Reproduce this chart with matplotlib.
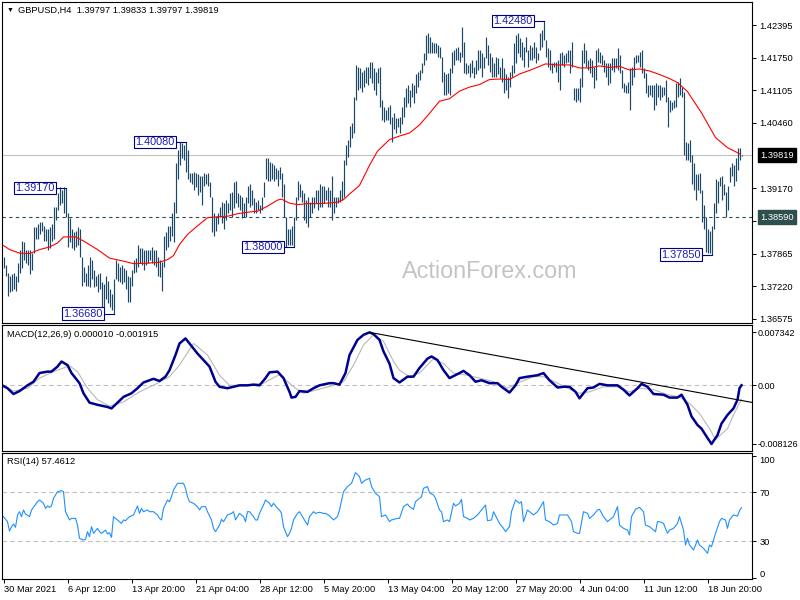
import numpy as np
import matplotlib
matplotlib.use('Agg')
import matplotlib.pyplot as plt
import matplotlib.transforms as mtransforms

plt.rcParams['font.family'] = ['Liberation Sans', 'DejaVu Sans']

# GBPUSD H4 bars (high / low), one per 4h bar from 30 Mar 2021
HIGH = [
    1.3781, 1.3765, 1.3749, 1.3742, 1.3746, 1.3749, 1.3742, 1.3769, 1.3795, 1.3811,
    1.3809, 1.3795, 1.3795, 1.3795, 1.3789, 1.3839, 1.3839, 1.3845, 1.3850, 1.3850,
    1.3841, 1.3835, 1.3835, 1.3839, 1.3845, 1.3880, 1.3880, 1.3908, 1.3918, 1.3914,
    1.3918, 1.3917, 1.3868, 1.3858, 1.3835, 1.3829, 1.3831, 1.3839, 1.3835, 1.3781,
    1.3761, 1.3749, 1.3765, 1.3781, 1.3775, 1.3755, 1.3742, 1.3746, 1.3749, 1.3730,
    1.3726, 1.3742, 1.3732, 1.3716, 1.3706, 1.3736, 1.3775, 1.3769, 1.3761, 1.3765,
    1.3759, 1.3755, 1.3742, 1.3740, 1.3755, 1.3775, 1.3779, 1.3805, 1.3799, 1.3799,
    1.3795, 1.3795, 1.3795, 1.3795, 1.3801, 1.3795, 1.3795, 1.3781, 1.3775, 1.3771,
    1.3821, 1.3829, 1.3841, 1.3841, 1.3868, 1.3890, 1.3967, 1.3993, 1.4009, 1.4007,
    1.4003, 1.4008, 1.3993, 1.3947, 1.3947, 1.3949, 1.3947, 1.3944, 1.3940, 1.3940,
    1.3947, 1.3944, 1.3947, 1.3928, 1.3900, 1.3868, 1.3860, 1.3868, 1.3880, 1.3890,
    1.3888, 1.3894, 1.3888, 1.3908, 1.3910, 1.3928, 1.3930, 1.3908, 1.3904, 1.3900,
    1.3888, 1.3900, 1.3920, 1.3924, 1.3914, 1.3898, 1.3890, 1.3894, 1.3884, 1.3900,
    1.3928, 1.3977, 1.3977, 1.3969, 1.3967, 1.3963, 1.3957, 1.3953, 1.3959, 1.3947,
    1.3924, 1.3860, 1.3835, 1.3835, 1.3841, 1.3860, 1.3900, 1.3930, 1.3924, 1.3914,
    1.3908, 1.3894, 1.3900, 1.3890, 1.3900, 1.3900, 1.3914, 1.3914, 1.3924, 1.3920,
    1.3920, 1.3914, 1.3918, 1.3914, 1.3940, 1.3900, 1.3900, 1.3900, 1.3914, 1.3930,
    1.3973, 1.4003, 1.4013, 1.4039, 1.4046, 1.4098, 1.4161, 1.4157, 1.4155, 1.4147,
    1.4151, 1.4157, 1.4157, 1.4167, 1.4167, 1.4155, 1.4147, 1.4155, 1.4157, 1.4092,
    1.4078, 1.4072, 1.4078, 1.4082, 1.4058, 1.4066, 1.4056, 1.4056, 1.4058, 1.4078,
    1.4098, 1.4116, 1.4122, 1.4112, 1.4126, 1.4122, 1.4142, 1.4147, 1.4151, 1.4165,
    1.4185, 1.4221, 1.4225, 1.4217, 1.4207, 1.4205, 1.4205, 1.4201, 1.4197, 1.4177,
    1.4147, 1.4142, 1.4145, 1.4155, 1.4187, 1.4191, 1.4195, 1.4197, 1.4187, 1.4237,
    1.4207, 1.4165, 1.4161, 1.4165, 1.4171, 1.4157, 1.4171, 1.4191, 1.4191, 1.4185,
    1.4177, 1.4217, 1.4201, 1.4185, 1.4177, 1.4165, 1.4177, 1.4175, 1.4157, 1.4175,
    1.4155, 1.4142, 1.4138, 1.4147, 1.4161, 1.4205, 1.4221, 1.4225, 1.4215, 1.4207,
    1.4197, 1.4217, 1.4191, 1.4201, 1.4197, 1.4207, 1.4197, 1.4185, 1.4225, 1.4231,
    1.4248, 1.4211, 1.4195, 1.4191, 1.4165, 1.4167, 1.4167, 1.4171, 1.4185, 1.4187,
    1.4181, 1.4185, 1.4191, 1.4191, 1.4207, 1.4116, 1.4116, 1.4116, 1.4136, 1.4191,
    1.4205, 1.4191, 1.4171, 1.4175, 1.4171, 1.4157, 1.4191, 1.4195, 1.4187, 1.4181,
    1.4171, 1.4165, 1.4165, 1.4165, 1.4175, 1.4175, 1.4175, 1.4195, 1.4181, 1.4151,
    1.4126, 1.4122, 1.4128, 1.4155, 1.4157, 1.4177, 1.4181, 1.4181, 1.4187, 1.4191,
    1.4155, 1.4145, 1.4122, 1.4122, 1.4122, 1.4122, 1.4126, 1.4122, 1.4122, 1.4118,
    1.4118, 1.4132, 1.4098, 1.4092, 1.4088, 1.4092, 1.4126, 1.4128, 1.4136, 1.4118,
    1.4108, 1.4009, 1.4007, 1.4013, 1.3983, 1.3967, 1.3944, 1.3944, 1.3947, 1.3914,
    1.3884, 1.3860, 1.3835, 1.3831, 1.3841, 1.3888, 1.3934, 1.3930, 1.3938, 1.3940,
    1.3924, 1.3910, 1.3920, 1.3959, 1.3967, 1.3963, 1.3977, 1.3997, 1.3997, 1.39833,
]
LOW = [
    1.3759, 1.3742, 1.3702, 1.3710, 1.3712, 1.3716, 1.3712, 1.3730, 1.3749, 1.3759,
    1.3775, 1.3769, 1.3765, 1.3746, 1.3755, 1.3789, 1.3815, 1.3815, 1.3825, 1.3831,
    1.3811, 1.3811, 1.3795, 1.3799, 1.3811, 1.3815, 1.3854, 1.3874, 1.3884, 1.3888,
    1.3868, 1.3860, 1.3801, 1.3809, 1.3799, 1.3795, 1.3801, 1.3805, 1.3781, 1.3722,
    1.3730, 1.3722, 1.3722, 1.3720, 1.3736, 1.3720, 1.3722, 1.3710, 1.3716, 1.3675,
    1.3682, 1.3696, 1.3690, 1.3682, 1.3676, 1.3668, 1.3736, 1.3732, 1.3730, 1.3726,
    1.3730, 1.3716, 1.3692, 1.3692, 1.3722, 1.3749, 1.3751, 1.3761, 1.3769, 1.3765,
    1.3755, 1.3765, 1.3769, 1.3775, 1.3769, 1.3765, 1.3761, 1.3742, 1.3740, 1.3712,
    1.3761, 1.3795, 1.3801, 1.3811, 1.3821, 1.3809, 1.3868, 1.3934, 1.3963, 1.3977,
    1.3973, 1.3949, 1.3934, 1.3928, 1.3924, 1.3914, 1.3918, 1.3904, 1.3910, 1.3884,
    1.3920, 1.3924, 1.3920, 1.3900, 1.3829, 1.3821, 1.3831, 1.3845, 1.3860, 1.3848,
    1.3835, 1.3854, 1.3868, 1.3874, 1.3860, 1.3878, 1.3888, 1.3880, 1.3874, 1.3858,
    1.3860, 1.3860, 1.3888, 1.3880, 1.3884, 1.3868, 1.3868, 1.3874, 1.3868, 1.3874,
    1.3900, 1.3934, 1.3930, 1.3930, 1.3934, 1.3930, 1.3934, 1.3920, 1.3934, 1.3900,
    1.3860, 1.3801, 1.3805, 1.3805, 1.3805, 1.3800, 1.3854, 1.3894, 1.3900, 1.3890,
    1.3854, 1.3848, 1.3839, 1.3860, 1.3868, 1.3878, 1.3888, 1.3874, 1.3880, 1.3880,
    1.3888, 1.3894, 1.3880, 1.3880, 1.3854, 1.3868, 1.3880, 1.3888, 1.3890, 1.3894,
    1.3900, 1.3963, 1.3979, 1.3999, 1.4017, 1.4027, 1.4092, 1.4112, 1.4116, 1.4108,
    1.4118, 1.4126, 1.4122, 1.4136, 1.4126, 1.4112, 1.4102, 1.4126, 1.4078, 1.4052,
    1.4048, 1.4052, 1.4052, 1.4043, 1.4009, 1.4033, 1.4027, 1.4037, 1.4027, 1.4043,
    1.4058, 1.4078, 1.4086, 1.4078, 1.4098, 1.4086, 1.4106, 1.4118, 1.4132, 1.4145,
    1.4161, 1.4171, 1.4185, 1.4185, 1.4185, 1.4185, 1.4185, 1.4177, 1.4175, 1.4128,
    1.4102, 1.4102, 1.4106, 1.4102, 1.4145, 1.4161, 1.4171, 1.4171, 1.4167, 1.4177,
    1.4145, 1.4142, 1.4145, 1.4138, 1.4145, 1.4136, 1.4142, 1.4151, 1.4155, 1.4138,
    1.4155, 1.4175, 1.4161, 1.4147, 1.4138, 1.4138, 1.4138, 1.4142, 1.4136, 1.4128,
    1.4106, 1.4112, 1.4096, 1.4118, 1.4138, 1.4145, 1.4165, 1.4185, 1.4177, 1.4171,
    1.4157, 1.4187, 1.4157, 1.4171, 1.4171, 1.4175, 1.4165, 1.4171, 1.4191, 1.4197,
    1.4211, 1.4177, 1.4157, 1.4151, 1.4145, 1.4157, 1.4147, 1.4128, 1.4112, 1.4161,
    1.4157, 1.4165, 1.4167, 1.4145, 1.4157, 1.4092, 1.4088, 1.4092, 1.4088, 1.4118,
    1.4165, 1.4157, 1.4151, 1.4145, 1.4138, 1.4116, 1.4132, 1.4167, 1.4165, 1.4161,
    1.4147, 1.4138, 1.4122, 1.4126, 1.4151, 1.4147, 1.4155, 1.4151, 1.4145, 1.4116,
    1.4108, 1.4106, 1.4106, 1.4072, 1.4122, 1.4138, 1.4165, 1.4167, 1.4157, 1.4145,
    1.4136, 1.4106, 1.4098, 1.4102, 1.4098, 1.4072, 1.4082, 1.4098, 1.4092, 1.4098,
    1.4102, 1.4088, 1.4037, 1.4068, 1.4072, 1.4076, 1.4078, 1.4098, 1.4102, 1.4098,
    1.3983, 1.3973, 1.3973, 1.3969, 1.3924, 1.3914, 1.3894, 1.3914, 1.3908, 1.3850,
    1.3835, 1.3791, 1.3789, 1.3789, 1.3785, 1.3835, 1.3868, 1.3888, 1.3920, 1.3894,
    1.3904, 1.3860, 1.3874, 1.3928, 1.3940, 1.3920, 1.3930, 1.3953, 1.3973, 1.39797,
]

# moving average (red), read as (bar, value)
MA_PTS = [
    (0, 1.3803), (3, 1.3795), (8, 1.3788), (13, 1.3787), (18, 1.3795), (23, 1.3800),
    (27, 1.3808), (30, 1.3820), (36, 1.3820), (40, 1.3812), (47, 1.3795), (53, 1.3778),
    (60, 1.3772), (65, 1.3767), (72, 1.3768), (78, 1.3770), (82, 1.3775), (85, 1.3783),
    (88, 1.3805), (92, 1.3825), (97, 1.3842), (102, 1.3858), (107, 1.3860), (112, 1.3861),
    (117, 1.3866), (122, 1.3869), (127, 1.3871), (132, 1.3881), (137, 1.3893), (139, 1.3895),
    (143, 1.3887), (147, 1.3884), (152, 1.3886), (157, 1.3886), (162, 1.3887), (167, 1.3889),
    (170, 1.3894), (173, 1.3905), (178, 1.3922), (183, 1.3962), (187, 1.3990), (193, 1.4013),
    (198, 1.4020), (203, 1.4026), (208, 1.4042), (213, 1.4065), (218, 1.4089), (223, 1.4094),
    (228, 1.4109), (233, 1.4117), (238, 1.4122), (243, 1.4132), (248, 1.4133), (253, 1.4132),
    (258, 1.4143), (263, 1.4150), (268, 1.4158), (271, 1.4163), (277, 1.4161), (283, 1.4161),
    (288, 1.4155), (293, 1.4155), (298, 1.4159), (303, 1.4156), (308, 1.4158), (313, 1.4151),
    (318, 1.4153), (323, 1.4149), (328, 1.4142), (333, 1.4134), (337, 1.4126), (342, 1.4108),
    (349, 1.4066), (356, 1.4017), (362, 1.3997), (368, 1.3985),
]

MACD_PTS = [
    (0, -0.0001), (2, -0.0004), (5, -0.0012), (8, -0.0008), (12, 0.0000), (15, 0.0005),
    (18, 0.0017), (22, 0.0019), (24, 0.0019), (27, 0.0026), (29, 0.0033), (32, 0.0028),
    (34, 0.0017), (38, 0.0003), (40, -0.0011), (43, -0.0024), (47, -0.0027), (52, -0.0030),
    (54, -0.0032), (57, -0.0024), (60, -0.0016), (64, -0.0011), (67, -0.0004), (70, 0.0004),
    (75, 0.0009), (78, 0.0006), (81, 0.0012), (83, 0.0021), (86, 0.0042), (88, 0.0058),
    (91, 0.0065), (93, 0.0058), (97, 0.0044), (100, 0.0035), (103, 0.0026), (106, 0.0005),
    (108, -0.0002), (112, -0.0004), (115, -0.0002), (118, 0.0000), (122, 0.0000), (125, 0.0001),
    (128, 0.0000), (131, 0.0010), (133, 0.0018), (137, 0.0019), (140, 0.0010), (143, -0.0009),
    (144, -0.0017), (146, -0.0016), (148, -0.0008), (152, -0.0009), (155, -0.0004), (158, 0.0000),
    (163, 0.0003), (165, 0.0003), (168, 0.0001), (171, 0.0017), (173, 0.0042), (177, 0.0063),
    (180, 0.0070), (183, 0.00734), (185, 0.0071), (188, 0.0063), (190, 0.0047), (193, 0.0030),
    (195, 0.0010), (198, 0.0004), (202, 0.0012), (205, 0.0012), (208, 0.0024), (212, 0.0037),
    (214, 0.0040), (217, 0.0035), (220, 0.0021), (223, 0.0010), (228, 0.0017), (230, 0.0020),
    (233, 0.0014), (236, 0.0005), (239, 0.0007), (243, 0.0003), (247, 0.0003), (249, -0.0002),
    (253, -0.0010), (256, 0.0000), (258, 0.0010), (262, 0.0012), (267, 0.0014), (270, 0.0017),
    (273, 0.0007), (277, -0.0003), (280, -0.0002), (283, -0.0002), (286, -0.0009), (288, -0.0018),
    (292, -0.0004), (295, -0.0003), (298, 0.0002), (302, 0.0000), (307, 0.0000), (310, -0.0006),
    (313, -0.0014), (317, -0.0004), (319, 0.0002), (322, -0.0002), (325, -0.0012), (330, -0.0013),
    (333, -0.0017), (337, -0.0017), (339, -0.0013), (342, -0.0027), (344, -0.0043), (347, -0.0055),
    (349, -0.0060), (352, -0.0073), (354, -0.00813), (357, -0.0069), (359, -0.0053), (362, -0.0041),
    (365, -0.0032), (367, -0.0020), (368, -0.0004), (369, 0.00001),
]

SIGNAL_PTS = [
    (0, -0.0001), (5, -0.0008), (12, -0.0004), (18, 0.0010), (25, 0.0019), (33, 0.0027),
    (37, 0.0019), (42, -0.0004), (47, -0.0020), (53, -0.0029), (60, -0.0023), (68, -0.0009),
    (77, 0.0003), (83, 0.0012), (88, 0.0028), (95, 0.0058), (102, 0.0042), (108, 0.0014),
    (113, 0.0000), (122, 0.0000), (130, 0.0003), (138, 0.0015), (145, -0.0002), (150, -0.0011),
    (157, -0.0006), (165, 0.0000), (170, 0.0005), (175, 0.0028), (180, 0.0056), (185, 0.0070),
    (190, 0.0061), (195, 0.0033), (198, 0.0021), (203, 0.0012), (208, 0.0017), (215, 0.0037),
    (220, 0.0030), (225, 0.0017), (232, 0.0014), (238, 0.0010), (245, 0.0005), (252, -0.0004),
    (257, 0.0003), (265, 0.0012), (270, 0.0012), (277, 0.0003), (282, -0.0004), (288, -0.0011),
    (293, -0.0009), (300, -0.0002), (307, -0.0002), (313, -0.0009), (318, -0.0004), (325, -0.0006),
    (332, -0.0013), (338, -0.0016), (343, -0.0025), (348, -0.0039), (353, -0.0060), (356, -0.0075),
    (362, -0.0060), (365, -0.0041), (369, -0.0019),
]

# MACD trend line drawn from the May peak
TREND_PTS = [(183, 0.00734), (369, -0.0021)]

RSI_PTS = [
    (0, 50.0), (2, 45.9), (3, 38.2), (4, 41.8), (5, 44.0), (6, 41.2), (7, 51.4), (8, 54.1),
    (9, 50.0), (10, 55.5), (11, 52.2), (13, 50.0), (14, 55.5), (17, 62.3), (18, 63.7), (20, 61.0),
    (21, 56.8), (22, 58.8), (23, 57.7), (24, 58.8), (25, 65.1), (27, 70.5), (29, 71.4), (30, 70.5),
    (31, 54.1), (33, 47.3), (34, 48.6), (36, 48.6), (37, 43.1), (38, 32.2), (40, 30.8), (41, 31.4),
    (42, 37.7), (43, 33.6), (44, 41.8), (45, 36.3), (47, 40.4), (48, 37.7), (49, 36.3), (51, 39.0),
    (52, 35.8), (53, 36.8), (54, 33.0), (55, 50.0), (57, 47.3), (59, 44.5), (60, 47.3), (61, 46.7),
    (63, 50.0), (65, 51.4), (67, 58.8), (68, 52.7), (69, 56.8), (70, 54.1), (72, 55.5), (73, 54.1),
    (75, 54.1), (77, 51.4), (78, 48.6), (79, 47.3), (80, 56.8), (82, 63.7), (83, 62.3), (84, 66.4),
    (85, 71.9), (87, 77.4), (88, 77.4), (90, 77.4), (91, 73.3), (92, 66.4), (93, 62.3), (95, 61.0),
    (97, 58.2), (98, 55.5), (99, 58.2), (101, 58.2), (102, 54.1), (104, 47.3), (105, 40.4), (106, 37.7),
    (108, 43.1), (109, 47.8), (110, 45.9), (111, 48.6), (112, 51.4), (114, 52.7), (115, 54.1), (116, 47.3),
    (117, 50.0), (118, 52.7), (120, 50.0), (121, 45.9), (122, 54.1), (123, 54.1), (125, 50.0), (126, 47.3),
    (127, 47.3), (128, 52.7), (130, 59.6), (131, 63.7), (133, 61.0), (134, 58.2), (135, 61.0), (137, 56.8),
    (138, 55.5), (139, 52.7), (140, 41.8), (142, 33.6), (143, 36.3), (144, 40.4), (145, 47.3), (147, 52.7),
    (148, 54.1), (149, 51.4), (150, 48.6), (152, 43.1), (153, 50.0), (155, 54.1), (156, 52.7), (158, 53.6),
    (160, 52.7), (161, 52.7), (163, 50.8), (165, 47.3), (167, 50.0), (168, 55.5), (170, 70.5), (172, 74.7),
    (174, 77.4), (176, 86.2), (178, 82.9), (179, 77.4), (181, 80.1), (183, 81.5), (184, 74.7), (186, 69.2),
    (188, 66.4), (189, 50.0), (191, 51.4), (193, 45.9), (194, 47.3), (197, 48.6), (198, 48.6), (200, 58.2),
    (202, 60.4), (203, 58.2), (205, 56.0), (206, 62.3), (208, 65.1), (209, 66.4), (210, 73.3), (212, 74.7),
    (213, 69.7), (215, 67.8), (216, 65.1), (218, 55.5), (219, 54.1), (220, 45.9), (222, 47.3), (223, 45.9),
    (225, 61.0), (226, 58.8), (228, 61.0), (229, 64.2), (230, 50.0), (232, 48.6), (233, 47.3), (235, 48.6),
    (237, 51.4), (239, 55.5), (241, 59.6), (242, 46.7), (244, 47.3), (245, 54.1), (247, 47.8), (248, 44.5),
    (250, 40.4), (251, 37.7), (253, 41.8), (254, 54.1), (256, 63.7), (258, 61.0), (259, 62.3), (260, 45.9),
    (262, 55.5), (263, 54.1), (265, 51.4), (267, 54.1), (268, 56.8), (270, 62.3), (271, 47.3), (273, 45.9),
    (275, 43.1), (277, 44.5), (278, 51.4), (280, 51.4), (282, 51.4), (284, 45.9), (285, 37.7), (287, 36.3),
    (288, 36.3), (290, 54.1), (292, 52.7), (293, 48.6), (295, 51.4), (297, 55.5), (298, 56.0), (300, 50.0),
    (302, 45.9), (303, 47.3), (305, 50.0), (307, 58.2), (308, 43.1), (310, 40.4), (312, 39.0), (313, 34.9),
    (314, 50.0), (316, 56.0), (318, 57.7), (320, 54.1), (321, 43.1), (323, 41.8), (325, 39.0), (326, 37.7),
    (327, 45.9), (328, 45.9), (330, 44.5), (332, 36.3), (333, 39.0), (335, 40.4), (337, 44.5), (338, 50.0),
    (340, 39.0), (341, 26.7), (342, 32.2), (343, 26.7), (345, 22.6), (347, 30.8), (348, 26.7), (350, 24.0),
    (352, 19.9), (353, 26.7), (354, 25.3), (356, 36.3), (358, 45.9), (359, 48.6), (361, 47.3), (362, 40.4),
    (363, 47.3), (365, 51.4), (367, 50.5), (368, 54.9), (369, 57.46),
]

SWING_LABELS = [(31, 1.39170), (55, 1.36680), (91, 1.40080), (145, 1.38000), (270, 1.42480), (354, 1.37850)]
PRICE_TICKS = [1.42395, 1.41750, 1.41105, 1.40460, 1.39170, 1.38510, 1.37865, 1.37220, 1.36575]
LAST_PRICE = 1.39819
HLINE = 1.38590
MACD_TICKS = [0.007342, 0.0, -0.008126]
MACD_TICK_LABELS = ['0.007342', '0.00', '-0.008126']
RSI_TICKS = [100, 70, 30, 0]
DATE_BARS = [0, 32, 64, 96, 128, 160, 192, 224, 256, 288, 320, 352]
DATE_LABELS = ['30 Mar 2021', '6 Apr 12:00', '13 Apr 20:00', '21 Apr 04:00', '28 Apr 12:00',
               '5 May 20:00', '13 May 04:00', '20 May 12:00', '27 May 20:00', '4 Jun 04:00',
               '11 Jun 12:00', '18 Jun 20:00']

BAR_C = '#1b4866'
FS = 6.7
W, H = 800, 600
XLIM = (-0.75, 374.25)

fig = plt.figure(figsize=(8, 6), dpi=100)


def panel(top, bottom):
    a = fig.add_axes([2 / W, 1 - bottom / H, 750 / W, (bottom - top) / H])
    a.set_xlim(*XLIM)
    for s in a.spines.values():
        s.set_linewidth(0.8)
        s.set_color('black')
    a.yaxis.tick_right()
    a.tick_params(axis='y', length=3, width=0.7, pad=2.5, labelsize=FS)
    a.tick_params(axis='x', bottom=False, labelbottom=False)
    return a


ax = panel(2, 323)
am = panel(325, 451)
ar = panel(453, 579)

# --- price panel ---
assert len(HIGH) == len(LOW)
x = np.arange(len(HIGH))
ax.axhline(LAST_PRICE, color='#c0c0c0', lw=0.8, zorder=1)
ax.axhline(HLINE, color='#2f4f4f', lw=0.8, ls=(0, (3, 3)), zorder=1)
ax.vlines(x, LOW, HIGH, color=BAR_C, lw=0.85, zorder=2)
mx, my = zip(*MA_PTS)
ax.plot(mx, my, color='red', lw=0.8, zorder=3)
ax.set_ylim(1.36494, 1.42857)
ax.set_yticks(PRICE_TICKS)
ax.set_yticklabels([f'{v:.5f}' for v in PRICE_TICKS])

for b, p in SWING_LABELS:
    ax.plot([b - 5, b], [p, p], color='#000080', lw=0.8, zorder=4)
    ax.text(b - 5.5, p, f'{p:.5f}', ha='right', va='center', fontsize=7.8, color='#1c1cb0', zorder=5,
            bbox=dict(boxstyle='square,pad=0.12', fc='white', ec='#000080', lw=0.8))

ytr = mtransforms.blended_transform_factory(ax.transAxes, ax.transData)
for v, fc in [(LAST_PRICE, 'black'), (HLINE, '#2f4f4f')]:
    ax.text(1.0107, v, f'{v:.5f}', transform=ytr, ha='left', va='center', fontsize=FS, color='white',
            clip_on=False, zorder=6, bbox=dict(boxstyle='square,pad=0.25', fc=fc, ec=fc))

# --- MACD panel ---
am.axhline(0, color='#c0c0c0', lw=0.8, ls=(0, (4, 3)))
sx, sy = zip(*SIGNAL_PTS)
am.plot(sx, sy, color='#b8b8b8', lw=0.8)
cx, cy = zip(*MACD_PTS)
am.plot(cx, cy, color='#000090', lw=1.8, solid_joinstyle='round')
(b0, v0), (b1, v1) = TREND_PTS
slope = (v1 - v0) / (b1 - b0)
am.plot([b0, XLIM[1]], [v0, v0 + slope * (XLIM[1] - b0)], color='black', lw=0.8)
am.set_ylim(-0.0091, 0.00836)
am.set_yticks(MACD_TICKS)
am.set_yticklabels(MACD_TICK_LABELS)
am.tick_params(axis='y', pad=1.2, labelsize=6.5)

# --- RSI panel ---
for lv in (70, 30):
    ar.axhline(lv, color='#c0c0c0', lw=0.8, ls=(0, (4, 3)))
rx, ry = zip(*RSI_PTS)
ar.plot(rx, ry, color='#1e90ff', lw=0.8)
ar.set_ylim(-1.2, 102.3)
ar.set_yticks(RSI_TICKS)
ar.set_yticklabels([str(v) for v in RSI_TICKS])
labs = ar.get_yticklabels()
labs[0].set_transform(labs[0].get_transform() + mtransforms.ScaledTranslation(0, -4 / 100, fig.dpi_scale_trans))
labs[3].set_transform(labs[3].get_transform() + mtransforms.ScaledTranslation(0, 4 / 100, fig.dpi_scale_trans))

ar.tick_params(axis='x', bottom=True, labelbottom=True, length=3, width=0.7, pad=1.5, labelsize=FS)
ar.set_xticks(DATE_BARS)
ar.set_xticklabels(DATE_LABELS, ha='left')

# --- header texts and watermark ---
fig.text(7 / W, 1 - 10.5 / H, '\u25BC', fontsize=5, va='center', ha='left')
fig.text(18 / W, 1 - 10.5 / H, 'GBPUSD,H4  1.39797 1.39833 1.39797 1.39819', fontsize=FS, va='center')
fig.text(7 / W, 1 - 334.5 / H, 'MACD(12,26,9) 0.000010 -0.001915', fontsize=FS, va='center')
fig.text(7 / W, 1 - 462 / H, 'RSI(14) 57.4612', fontsize=FS, va='center')
fig.text(490 / W, 1 - 272 / H, 'ActionForex.com', fontsize=16.8, color='#c4c4c4', ha='center', va='center')

fig.savefig('out.png', dpi=100)
